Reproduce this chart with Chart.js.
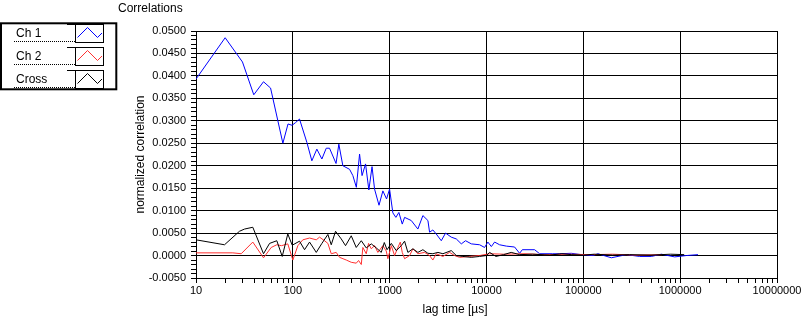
<!DOCTYPE html>
<html><head><meta charset="utf-8">
<script src="https://cdn.jsdelivr.net/npm/chart.js@4/dist/chart.umd.min.js"></script>
<style>html,body{margin:0;padding:0;background:#fff;}canvas{display:block;}</style>
</head><body>
<canvas id="c" width="801" height="321"></canvas>
<script>
const chartTitle = 'Correlations';
const xTitle = 'lag time [µs]';
const yTitle = 'normalized correlation';
const seriesNames = ['Ch 1', 'Ch 2', 'Cross'];
const xMajorTicks = [10, 100, 1000, 10000, 100000, 1000000, 10000000];
const yMajorTicks = [-0.005, 0, 0.005, 0.01, 0.015, 0.02, 0.025, 0.03, 0.035, 0.04, 0.045, 0.05];

const ch1Lag = [10, 20, 30.2, 39.5, 49.8, 58.9, 78.9, 89.2, 98.2, 106.6, 117.2, 139.6, 157.2, 177, 199.5, 221.3, 239.4, 279.4, 298.6, 328.5, 385.4, 416.9, 452.9, 488.8, 518.6, 563.6, 609.5, 657.7, 698.2, 776.2, 851, 928.9, 997.7, 1079, 1159, 1245, 1349, 1426, 1671, 1955, 2203, 2483, 2583, 2793, 3027, 3412, 3777, 4325, 4875, 5495, 6081, 6966, 8492, 9556, 10330, 11220, 12130, 13650, 16030, 19500, 21980, 23440, 31400, 35390, 48200, 56900, 75200, 95300, 125600, 141500, 194600, 277900, 381700, 503900, 639400, 877300, 1158000, 1528000];
const ch1Val = [0.0393, 0.0485, 0.0431, 0.0358, 0.0387, 0.0373, 0.0250, 0.0293, 0.0290, 0.0296, 0.0304, 0.0252, 0.0211, 0.0237, 0.0215, 0.0239, 0.0239, 0.0205, 0.0248, 0.0200, 0.0192, 0.0178, 0.0152, 0.0226, 0.0178, 0.0204, 0.0146, 0.0198, 0.0148, 0.0112, 0.0144, 0.0126, 0.0148, 0.0095, 0.0085, 0.0096, 0.0070, 0.0085, 0.0078, 0.0059, 0.0089, 0.0078, 0.0052, 0.0057, 0.0048, 0.0033, 0.0050, 0.0041, 0.0037, 0.0026, 0.0033, 0.0026, 0.0024, 0.0018, 0.0030, 0.0020, 0.0030, 0.0024, 0.0021, 0.0019, 0.0005, 0.0013, 0.0013, 0.0004, 0.0004, 0.0004, 0.0005, 0.0002, 0.0000, 0.0004, -0.0005, 0.0002, -0.0002, -0.0002, 0.0003, -0.0003, 0.0000, 0.0002];

const ch2Lag = [10, 24, 29.3, 38.6, 49.8, 59.8, 68.3, 76.4, 88.7, 100, 112.7, 126.8, 148.9, 174.6, 188.8, 212.5, 230.1, 249.3, 280.5, 303.6, 356.5, 401, 451.6, 477.5, 509.3, 528.4, 573, 605.3, 645.7, 698.2, 755.1, 851, 922.6, 957.9, 1040, 1124, 1216, 1288, 1349, 1426, 1607, 1738, 1955, 2296, 2583, 2793, 3027, 3548, 4159, 4677, 5272, 6683, 8492, 10770, 15000, 25000, 40000, 70000, 120000, 200000, 350000, 650000];
const ch2Val = [0.0006, 0.0006, 0.0004, 0.0030, -0.0005, 0.0018, 0.0024, 0.0022, 0.0026, -0.0010, 0.0022, 0.0035, 0.0039, 0.0035, 0.0041, 0.0033, 0.0027, 0.0004, 0.0007, -0.0004, -0.0010, -0.0015, -0.0017, -0.0011, -0.0020, 0.0018, 0.0004, 0.0027, 0.0015, 0.0022, 0.0007, 0.0022, 0.0010, -0.0007, 0.0022, 0.0000, 0.0018, 0.0030, 0.0007, -0.0007, 0.0000, 0.0015, 0.0004, 0.0007, 0.0000, -0.0010, 0.0004, -0.0002, 0.0007, 0.0000, -0.0004, -0.0002, 0.0000, 0.0004, 0.0003, 0.0004, 0.0002, 0.0003, 0.0002, 0.0003, 0.0001, 0.0002];

const crossLag = [10, 19.7, 28.1, 31.7, 38.6, 49.8, 57.5, 68.3, 77.7, 88.7, 98.6, 117.2, 132.1, 148.9, 174.6, 199.5, 230.1, 249.3, 276.1, 316.2, 350.2, 401, 451.6, 509.3, 573, 645.7, 727.8, 818.9, 880, 940, 1040, 1170, 1318, 1426, 1542, 1738, 1955, 2203, 2483, 2793, 3148, 3548, 4325, 4875, 5702, 6966, 8492, 9955, 10770, 12500, 15000, 18000, 22000, 30000, 45000, 60000, 75000, 100000, 130000, 200000, 300000, 500000, 800000, 1100000];
const crossVal = [0.0035, 0.0024, 0.0054, 0.0059, 0.0063, 0.0004, 0.0027, 0.0033, -0.0002, 0.0048, 0.0023, 0.0032, 0.0013, 0.0030, 0.0007, 0.0027, 0.0047, 0.0024, 0.0054, 0.0037, 0.0022, 0.0044, 0.0018, 0.0033, 0.0017, 0.0026, 0.0017, 0.0007, 0.0029, 0.0013, 0.0027, 0.0011, 0.0022, 0.0032, 0.0007, 0.0015, 0.0007, 0.0013, 0.0005, 0.0004, 0.0007, 0.0004, 0.0011, 0.0000, -0.0002, -0.0004, -0.0002, 0.0000, 0.0007, -0.0002, 0.0002, 0.0007, 0.0002, 0.0003, 0.0001, 0.0004, 0.0002, 0.0001, 0.0003, 0.0001, 0.0002, 0.0001, 0.0003, 0.0002];

const FONT = "'Liberation Sans', Arial, sans-serif";
Chart.defaults.font.family = FONT;
Chart.defaults.color = '#000';

const pts = (xs, ys) => xs.map((x, i) => ({x: x, y: ys[i]}));
const isMajorX = v => xMajorTicks.some(m => Math.abs(m - v) < 1e-6 * m);
const isMajorY = v => yMajorTicks.some(m => Math.abs(m - v) < 1e-9);

const xTickValues = [];
xMajorTicks.forEach((m, i) => {
  xTickValues.push(m);
  if (i < xMajorTicks.length - 1) for (let k = 2; k <= 9; k++) xTickValues.push(m * k);
});
const yTickValues = [];
for (let i = 0; i < yMajorTicks.length; i++) {
  yTickValues.push(yMajorTicks[i]);
  if (i < yMajorTicks.length - 1) for (let k = 1; k <= 4; k++) yTickValues.push(Math.round((yMajorTicks[i] + k * 0.001) * 10000) / 10000);
}

const decor = {
  id: 'decor',
  afterDraw(chart) {
    const c = chart.ctx;
    c.save();
    c.fillStyle = '#000';
    c.strokeStyle = '#000';
    c.font = '12px ' + FONT;
    c.textBaseline = 'middle';
    c.textAlign = 'left';
    c.fillText(chartTitle, 118, 9);
    c.textAlign = 'center';
    c.fillText(xTitle, 455, 310);
    // legend frame
    c.lineWidth = 2;
    c.strokeRect(1, 23.3, 115.3, 66);
    chart.data.datasets.forEach((ds, i) => {
      const top = 24 + i * 23;
      c.fillStyle = '#000';
      c.textAlign = 'left';
      c.fillText(ds.label, 16, top + 9.5);
      c.lineWidth = 1;
      c.strokeStyle = '#000';
      c.setLineDash([1, 1]);
      c.beginPath(); c.moveTo(14, top + 17.5); c.lineTo(75, top + 17.5); c.stroke();
      c.setLineDash([]);
      c.beginPath(); c.moveTo(67, top + 0.5); c.lineTo(76, top + 0.5); c.stroke();
      c.strokeRect(75.5, top + 0.5, 28, 18);
      c.strokeStyle = ds.borderColor;
      c.beginPath();
      c.moveTo(77.5, top + 13.5); c.lineTo(87.5, top + 3.5); c.lineTo(97.5, top + 13.5); c.lineTo(102, top + 9);
      c.stroke();
    });
    c.restore();
  }
};

new Chart(document.getElementById('c'), {
  type: 'line',
  data: {
    datasets: [
      {label: seriesNames[0], data: pts(ch1Lag, ch1Val), borderColor: '#0000ff', borderWidth: 1, pointRadius: 0, tension: 0, fill: false, order: 3},
      {label: seriesNames[1], data: pts(ch2Lag, ch2Val), borderColor: '#ff3030', borderWidth: 1, pointRadius: 0, tension: 0, fill: false, order: 2},
      {label: seriesNames[2], data: pts(crossLag, crossVal), borderColor: '#000000', borderWidth: 1, pointRadius: 0, tension: 0, fill: false, order: 1}
    ]
  },
  options: {
    responsive: false,
    animation: false,
    layout: {padding: {left: 0, right: 24, top: 31, bottom: 0}},
    plugins: {legend: {display: false}, title: {display: false}, tooltip: {enabled: false}},
    scales: {
      x: {
        type: 'logarithmic', min: 10, max: 10000000,
        afterBuildTicks: s => { s.ticks = xTickValues.map(v => ({value: v})); },
        afterFit: s => { s.height = 43; s.paddingLeft = 0; s.paddingRight = 0; },
        ticks: {autoSkip: false, maxRotation: 0, minRotation: 0, padding: 1, font: {size: 11},
          callback: v => isMajorX(v) ? String(v) : ''},
        grid: {color: ctx => (ctx.tick && isMajorX(ctx.tick.value)) ? '#000' : 'rgba(0,0,0,0)', tickColor: '#000', tickLength: 5, lineWidth: 1},
        border: {color: '#000', width: 1}
      },
      y: {
        type: 'linear', min: -0.005, max: 0.05,
        afterBuildTicks: s => { s.ticks = yTickValues.map(v => ({value: v})); },
        afterFit: s => { s.width = 196; s.paddingTop = 0; s.paddingBottom = 0; },
        ticks: {autoSkip: false, padding: 5, font: {size: 11},
          callback: v => isMajorY(v) ? v.toFixed(4) : ''},
        grid: {color: ctx => (ctx.tick && isMajorY(ctx.tick.value)) ? '#000' : 'rgba(0,0,0,0)', tickColor: '#000', tickLength: 5, lineWidth: 1},
        border: {color: '#000', width: 1},
        title: {display: true, text: yTitle, font: {size: 12}, padding: {top: 133, bottom: 0}}
      }
    }
  },
  plugins: [decor]
});
</script>
</body></html>
